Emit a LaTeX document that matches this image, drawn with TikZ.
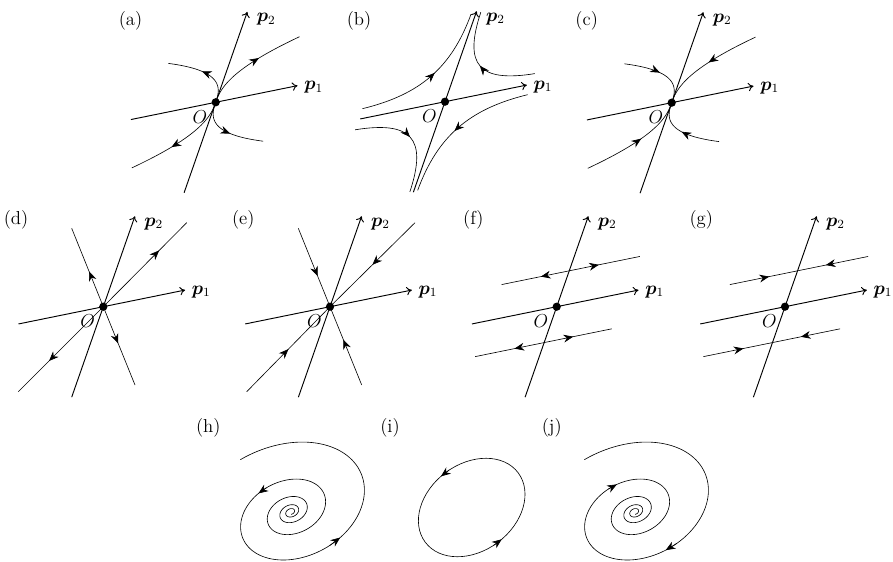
\documentclass[tikz,border=0pt]{standalone}
\usepackage{bm}
\usetikzlibrary{arrows.meta,decorations.markings}
\tikzset{
  axisline/.style={line width=0.6pt, -{To[length=3.4pt,width=5.4pt]}},
  traj/.style={line width=0.4pt},
  tip/.tip={Stealth[length=6.2pt,width=5pt,inset=2pt]},
  arrowat/.style={postaction={decorate}, decoration={markings, mark=at position #1 with {\arrow{tip}}}},
  rarrowat/.style={postaction={decorate}, decoration={markings, mark=at position #1 with {\arrowreversed{tip}}}},
  pdot/.style={circle, fill, inner sep=0pt, minimum size=5.3pt},
  plab/.style={inner sep=0pt, font=\fontsize{12}{14}\selectfont},
  eig/.style={x={(0.9799,0.1994)}, y={(0.3584,0.9336)}},
  declare function={sr(\t)=98.5*exp(0.0020944*(\t-104));}
}
\newcommand\paxes[1]{%
  \begin{scope}[eig]
    \draw[axisline] (-86.5,0) -- (83.5,0);
    \draw[axisline] (0,-90) -- (0,90);
  \end{scope}
  \node[pdot] (O#1) at (0,0) {};
  \node[plab] (pone#1) at (98,15) {$\bm{p}_1$};
  \node[plab] (ptwo#1) at (50.5,83) {$\bm{p}_2$};
  \node[plab] (olab#1) at (-15.7,-14.5) {$O$};
}
\newcommand\sarrow[2]{% chord arrow on spiral from angle #1 to #2
  \draw[traj,-{tip}] ({sr(#1)*cos(#1)},{sr(#1)*sin(#1)}) -- ({sr(#2)*cos(#2)},{sr(#2)*sin(#2)});
}
\begin{document}
\begin{tikzpicture}[x=0.64pt, y=0.64pt]
\useasboundingbox (0,0) rectangle (893,561);

% panel labels
\node[plab] (la) at (130.5,540.5) {(a)};
\node[plab] (lb) at (359,540.5) {(b)};
\node[plab] (lc) at (586.7,540.5) {(c)};
\node[plab] (ld) at (16,341) {(d)};
\node[plab] (le) at (243.3,341) {(e)};
\node[plab] (lf) at (473.3,341) {(f)};
\node[plab] (lg) at (701.3,341) {(g)};
\node[plab] (lh) at (208.3,133) {(h)};
\node[plab] (li) at (390,133) {(i)};
\node[plab] (lj) at (551.7,133) {(j)};

% (a) unstable node
\begin{scope}[shift={(215.7,458.7)}]
  \begin{scope}[eig]
    \draw[traj, arrowat=0.58] plot[domain=0:1, samples=50] ({67*\x*\x*sqrt(\x)},{52*\x});
    \draw[traj, arrowat=0.53] plot[domain=0:1, samples=50] ({-67*\x*\x*sqrt(\x)},{52*\x});
    \draw[traj, arrowat=0.59] plot[domain=0:1, samples=50] ({-67*\x*\x*sqrt(\x)},{-52*\x});
    \draw[traj, arrowat=0.54] plot[domain=0:1, samples=50] ({67*\x*\x*sqrt(\x)},{-52*\x});
  \end{scope}
  \paxes{a}
\end{scope}

% (b) saddle
\begin{scope}[shift={(445,459.3)}]
  \begin{scope}[eig]
    \draw[traj, arrowat=0.54] (-88,10.5) .. controls (-30,13) and (-6,35) .. (-5,88);
    \draw[traj, arrowat=0.51] (88,10.5) .. controls (30,13) and (6,35) .. (5,88);
    \draw[traj, arrowat=0.50] (-88,-10.5) .. controls (-30,-13) and (-5,-35) .. (-4,-89);
    \draw[traj, arrowat=0.54] (88,-10.5) .. controls (30,-13) and (5,-35) .. (4,-89);
  \end{scope}
  \paxes{b}
\end{scope}

% (c) stable node
\begin{scope}[shift={(671.7,458.3)}]
  \begin{scope}[eig]
    \draw[traj, rarrowat=0.51] plot[domain=0:1, samples=50] ({67*\x*\x*sqrt(\x)},{52*\x});
    \draw[traj, rarrowat=0.50] plot[domain=0:1, samples=50] ({-67*\x*\x*sqrt(\x)},{52*\x});
    \draw[traj, rarrowat=0.44] plot[domain=0:1, samples=50] ({-67*\x*\x*sqrt(\x)},{-52*\x});
    \draw[traj, rarrowat=0.47] plot[domain=0:1, samples=50] ({67*\x*\x*sqrt(\x)},{-52*\x});
  \end{scope}
  \paxes{c}
\end{scope}

% (d) unstable star
\begin{scope}[shift={(103.3,254.3)}]
  \draw[traj, arrowat=0.67] (0,0) -- (83.4,84);
  \draw[traj, arrowat=0.64] (0,0) -- (-85,-85);
  \draw[traj, arrowat=0.45] (0,0) -- (-31.6,78.4);
  \draw[traj, arrowat=0.47] (0,0) -- (31.7,-78.3);
  \paxes{d}
\end{scope}

% (e) stable star
\begin{scope}[shift={(330,254.3)}]
  \draw[traj, rarrowat=0.50] (0,0) -- (85,84);
  \draw[traj, rarrowat=0.50] (0,0) -- (-83.3,-85);
  \draw[traj, rarrowat=0.39] (0,0) -- (-31.7,78.4);
  \draw[traj, rarrowat=0.42] (0,0) -- (31.7,-78.3);
  \paxes{e}
\end{scope}

% (f)
\begin{scope}[shift={(556.7,254.3)}]
  \begin{scope}[eig]
    \draw[traj, arrowat=0.42] (0,35.7) -- (72,35.7);
    \draw[traj, arrowat=0.42] (0,35.7) -- (-69,35.7);
    \draw[traj, arrowat=0.43] (0,-35.7) -- (69,-35.7);
    \draw[traj, arrowat=0.43] (0,-35.7) -- (-70.5,-35.7);
  \end{scope}
  \paxes{f}
\end{scope}

% (g)
\begin{scope}[shift={(785,254.3)}]
  \begin{scope}[eig]
    \draw[traj, rarrowat=0.40] (0,35.7) -- (72,35.7);
    \draw[traj, rarrowat=0.42] (0,35.7) -- (-69,35.7);
    \draw[traj, rarrowat=0.42] (0,-35.7) -- (69,-35.7);
    \draw[traj, rarrowat=0.42] (0,-35.7) -- (-70.5,-35.7);
  \end{scope}
  \paxes{g}
\end{scope}

% (h) unstable focus
\begin{scope}[shift={(291,49)}, rotate=25, yscale=0.72]
  \draw[traj] plot[domain=-1546:104, samples=500, smooth] ({sr(\x)*cos(\x)},{sr(\x)*sin(\x)});
  \sarrow{-255}{-243}
  \sarrow{-72}{-61}
\end{scope}

% (i) centre
\begin{scope}[shift={(471.7,53.5)}, rotate=36.7]
  \draw[traj] (0,0) ellipse [x radius=58, y radius=43.6];
  \draw[traj,-{tip}] ({58*cos(86)},{43.6*sin(86)}) -- ({58*cos(96)},{43.6*sin(96)});
  \draw[traj,-{tip}] ({58*cos(-95)},{43.6*sin(-95)}) -- ({58*cos(-85)},{43.6*sin(-85)});
\end{scope}

% (j) stable focus
\begin{scope}[shift={(635,49)}, rotate=25, yscale=0.72]
  \draw[traj] plot[domain=-1546:104, samples=500, smooth] ({sr(\x)*cos(\x)},{sr(\x)*sin(\x)});
  \sarrow{-252}{-264}
  \sarrow{-69}{-80}
\end{scope}
\end{tikzpicture}
\end{document}
